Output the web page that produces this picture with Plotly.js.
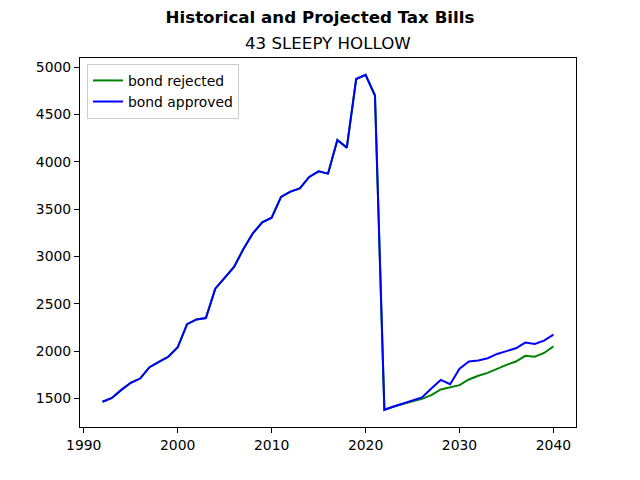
<!DOCTYPE html>
<html>
<head>
<meta charset="utf-8">
<script src="https://cdn.plot.ly/plotly-3.0.1.min.js"></script>
<style>html,body{margin:0;padding:0;background:#fff;}#chart{width:640px;height:480px;}</style>
</head>
<body>
<div id="chart"></div>
<script>
const years = [1992,1993,1994,1995,1996,1997,1998,1999,2000,2001,2002,2003,2004,2005,2006,2007,2008,2009,2010,
  2011,2012,2013,2014,2015,2016,2017,2018,2019,2020,2021,2022,2023,2024,2025,2026,2027,2028,2029,2030,
  2031,2032,2033,2034,2035,2036,2037,2038,2039,2040];
const bondRejected = [1465,1505,1590,1665,1710,1830,1885,1940,2040,2285,2335,2350,2660,2780,2890,3080,3245,3360,3410,
  3630,3685,3720,3840,3900,3875,4230,4150,4875,4920,4700,1380,1415,1445,1470,1495,1535,1595,1615,1640,
  1700,1740,1770,1815,1855,1890,1950,1940,1980,2050];
const bondApproved = [1465,1505,1590,1665,1710,1830,1885,1940,2040,2285,2335,2350,2660,2780,2890,3080,3245,3360,3410,
  3630,3685,3720,3840,3900,3875,4230,4150,4875,4920,4700,1380,1415,1445,1475,1510,1605,1695,1650,1815,
  1890,1900,1925,1970,2000,2030,2090,2075,2110,2175];
const xTicks = [1990,2000,2010,2020,2030,2040];
const yTicks = [1500,2000,2500,3000,3500,4000,4500,5000];

const traces = [
  {x: years, y: bondRejected, type: 'scatter', mode: 'lines', name: 'bond rejected',
   line: {color: '#008000', width: 2}},
  {x: years, y: bondApproved, type: 'scatter', mode: 'lines', name: 'bond approved',
   line: {color: '#0000ff', width: 2}}
];

const axisCommon = {
  showgrid: false, zeroline: false, showline: true, mirror: true,
  linecolor: '#000', linewidth: 1, ticks: 'outside', ticklen: 5, tickwidth: 1, tickcolor: '#000',
  tickfont: {family: 'DejaVu Sans', size: 13.9, color: '#000'}
};

const layout = {
  width: 640, height: 480,
  paper_bgcolor: '#fff', plot_bgcolor: '#fff',
  margin: {l: 80, r: 64, t: 58, b: 53},
  font: {family: 'DejaVu Sans', color: '#000'},
  title: {text: '<b>Historical and Projected Tax Bills</b>', font: {family: 'DejaVu Sans', size: 16.67, color: '#000'},
          x: 0.5, xanchor: 'center', xref: 'container', y: 1 - 17/480, yref: 'container', yanchor: 'middle'},
  annotations: [{text: '43 SLEEPY HOLLOW', xref: 'paper', yref: 'paper', x: 0.5, y: 1.038,
                 xanchor: 'center', yanchor: 'middle', showarrow: false,
                 font: {family: 'DejaVu Sans', size: 16.67, color: '#000'}}],
  xaxis: Object.assign({}, axisCommon, {range: [1989.6, 2042.4], tickvals: xTicks}),
  yaxis: Object.assign({}, axisCommon, {range: [1198, 5097], tickvals: yTicks}),
  legend: {x: 0.014, y: 0.984, xanchor: 'left', yanchor: 'top',
           bgcolor: 'rgba(255,255,255,0.8)', bordercolor: '#cccccc', borderwidth: 1,
           font: {family: 'DejaVu Sans', size: 13.9, color: '#000'}, tracegroupgap: 0},
  showlegend: true
};

Plotly.newPlot('chart', traces, layout, {displayModeBar: false, staticPlot: true});
</script>
</body>
</html>
